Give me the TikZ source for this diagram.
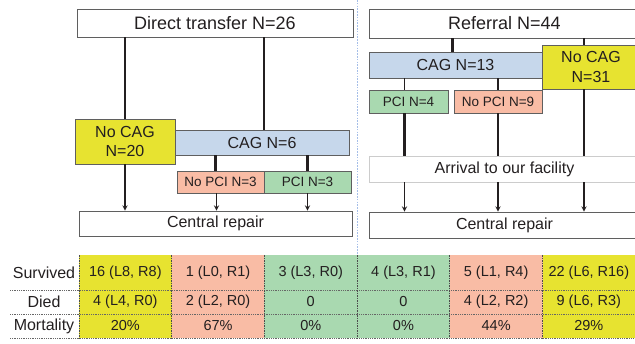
\documentclass[tikz,border=0pt]{standalone}
\usepackage{fontspec}
\setmainfont{Liberation Sans}
\usetikzlibrary{arrows, positioning}
\definecolor{cagyellow}{RGB}{231,227,48}
\definecolor{cagblue}{RGB}{198,215,235}
\definecolor{pcigreen}{RGB}{169,217,176}
\definecolor{nopcired}{RGB}{249,188,165}
\definecolor{boxline}{RGB}{95,95,95}
\definecolor{txt}{RGB}{35,31,32}
\definecolor{sepblue}{RGB}{165,190,232}
\tikzset{>=stealth,
	box/.style={draw=boxline, line width=0.9pt, inner sep=0pt, text=txt, align=center},
	big/.style={font=\fontsize{18}{20}\selectfont},
	mid/.style={font=\fontsize{16}{19.5}\selectfont},
	small/.style={font=\fontsize{13.5}{15}\selectfont},
	trunk/.style={line width=2.8pt, draw=txt},
	twig/.style={line width=1.3pt, draw=txt},
	feed/.style={->, line width=1.3pt, draw=txt},
	cell/.style={inner sep=0pt, minimum width=92.7pt, text=txt, font=\fontsize{14.5}{16}\selectfont},
	rowlabel/.style={text=txt, font=\fontsize{16}{18}\selectfont},
}

\begin{document}
\begin{tikzpicture}[x=1pt, y=-1pt]
		\useasboundingbox (0,0) rectangle (635,343);
		\clip (0,0) rectangle (635,343);
		% direct transfer
		\node[box, big, minimum width=276, minimum height=28] (direct) at (215,23) {Direct transfer N=26};
		\node[box, mid, fill=cagblue, minimum width=174, minimum height=25] (dcag) at (262,142.5) {CAG N=6};
		\node[box, mid, fill=cagyellow, minimum width=100, minimum height=45] (dnocag) at (125,141.5) {No CAG\\N=20};
		\node[box, small, fill=nopcired, minimum width=87, minimum height=22] (dnopci) at (220.5,182) {No PCI N=3};
		\node[box, small, fill=pcigreen, minimum width=87, minimum height=22] (dpci) at (307.5,182) {PCI N=3};
		\node[box, mid, minimum width=273, minimum height=25] (drepair) at (215.5,223.5) {Central repair};
		\draw[trunk] (dnocag.north) -- (dnocag.north |- direct.south);
		\draw[trunk] ([xshift=2pt]dcag.north) -- ([xshift=2pt]dcag.north |- direct.south);
		\draw[trunk] ([xshift=-5pt]dnopci.north) -- ([xshift=-5pt]dnopci.north |- dcag.south);
		\draw[trunk] (dpci.north) -- (dpci.north |- dcag.south);
		\draw[feed] (dnocag.south) -- (dnocag.south |- drepair.north);
		\draw[feed] ([xshift=-4pt]dnopci.south) -- ([xshift=-4pt]dnopci.south |- drepair.north);
		\draw[feed] (dpci.south) -- (dpci.south |- drepair.north);
		% referral
		\node[box, big, minimum width=271, minimum height=29] (referral) at (504.5,23.5) {Referral N=44};
		\node[box, mid, fill=cagblue, minimum width=173, minimum height=26] (rcag) at (455.5,65) {CAG N=13};
		\node[box, mid, fill=cagyellow, minimum width=98, minimum height=44] (rnocag) at (591,67) {No CAG\\N=31};
		\node[box, small, fill=pcigreen, minimum width=79, minimum height=23] (rpci) at (408.5,101.5) {PCI N=4};
		\node[box, small, fill=nopcired, minimum width=88, minimum height=23] (rnopci) at (498,101.5) {No PCI N=9};
		\node[box, mid, draw=black!20, minimum width=271, minimum height=26] (arrival) at (504.5,169) {Arrival to our facility};
		\node[box, mid, minimum width=271, minimum height=26] (rrepair) at (504.5,225) {Central repair};
		\draw[trunk] ([xshift=-3pt]rcag.north) -- ([xshift=-3pt]rcag.north |- referral.south);
		\draw[trunk] ([xshift=-7pt]rnocag.north) -- ([xshift=-7pt]rnocag.north |- referral.south);
		\draw[twig] ([xshift=-4pt]rpci.north) -- ([xshift=-4pt]rpci.north |- rcag.south);
		\draw[trunk] (rnopci.north) -- (rnopci.north |- rcag.south);
		\draw[trunk] ([xshift=-4pt]rpci.south) -- ([xshift=-4pt]rpci.south |- arrival.north);
		\draw[trunk] (rnopci.south) -- (rnopci.south |- arrival.north);
		\draw[trunk] ([xshift=-7pt]rnocag.south) -- ([xshift=-7pt]rnocag.south |- arrival.north);
		\draw[feed] ([xshift=-4pt]rpci.south |- arrival.south) -- ([xshift=-4pt]rpci.south |- rrepair.north);
		\draw[feed] (rnopci.south |- arrival.south) -- (rnopci.south |- rrepair.north);
		\draw[feed] ([xshift=-7pt]rnocag.south |- arrival.south) -- ([xshift=-7pt]rnocag.south |- rrepair.north);
		% separator
		\draw[sepblue, line width=1.8pt, dash pattern=on 1.6pt off 1.2pt] (357.5,0) -- (357.5,255);
		% outcome table
		\foreach \fc/\s/\d/\m [count=\i] in {cagyellow/{16 (L8, R8)}/{4 (L4, R0)}/{20\%},
				nopcired/{1 (L0, R1)}/{2 (L2, R0)}/{67\%},
				pcigreen/{3 (L3, R0)}/0/{0\%},
				pcigreen/{4 (L3, R1)}/0/{0\%},
				nopcired/{5 (L1, R4)}/{4 (L2, R2)}/{44\%},
				cagyellow/{22 (L6, R16)}/{9 (L6, R3)}/{29\%}}{
			\node[cell, fill=\fc, minimum height=35] (surv\i) at ({79+92.7*(\i-0.5)},272.5) {\s};
			\node[cell, fill=\fc, minimum height=24] (died\i) at ({79+92.7*(\i-0.5)},302) {\d};
			\node[cell, fill=\fc, minimum height=24] (mort\i) at ({79+92.7*(\i-0.5)},326) {\m};
		}
		\node[rowlabel] (survived) at (44,272.5) {Survived};
		\node[rowlabel] (died) at (44,302) {Died};
		\node[rowlabel] (mortality) at (44,326) {Mortality};
		\foreach \y in {290,314,338}
			\draw[black!60, line width=0.8pt, dash pattern=on 1pt off 0.8pt] (10,\y) -- (635,\y);
		\foreach \i in {0,...,6}
			\draw[black!70, line width=0.7pt, dash pattern=on 1.5pt off 1pt] ({79+92.7*\i},255) -- ({79+92.7*\i},338);
\end{tikzpicture}
\end{document}
